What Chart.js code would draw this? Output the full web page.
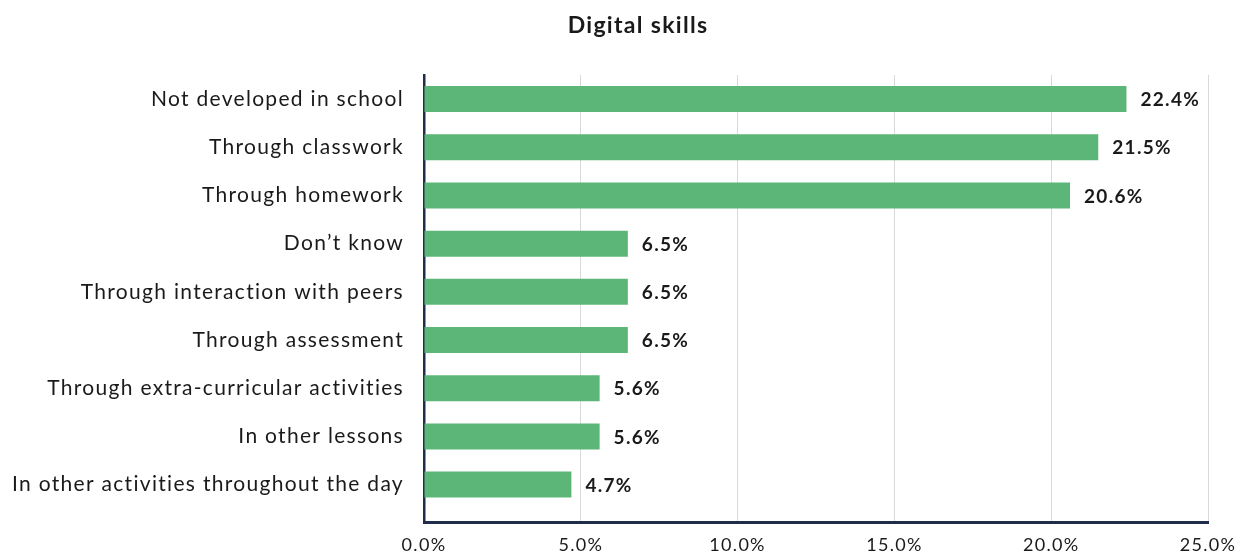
<!DOCTYPE html>
<html>
<head>
<meta charset="utf-8">
<script src="https://cdn.jsdelivr.net/npm/chart.js@4.4.1/dist/chart.umd.min.js"></script>
<style>
  html, body { margin: 0; padding: 0; background: #ffffff; }
  #wrap { width: 1246px; height: 555px; position: relative; }
</style>
</head>
<body>
<div id="wrap"><canvas id="c"></canvas></div>
<script>
const categories = [
  "Not developed in school",
  "Through classwork",
  "Through homework",
  "Don\u2019t know",
  "Through interaction with peers",
  "Through assessment",
  "Through extra-curricular activities",
  "In other lessons",
  "In other activities throughout the day"
];
const values = [22.4, 21.5, 20.6, 6.5, 6.5, 6.5, 5.6, 5.6, 4.7];
const xTickValues = [0, 5, 10, 15, 20, 25];
const chartTitle = "Digital skills";

const FONT = "Lato, 'Open Sans', sans-serif";
const TEXT = "#1a1a1a";
const AXIS = "#1f2d4a";

const spacing = {
  id: 'spacing',
  beforeDraw(chart) { chart.ctx.letterSpacing = '1.3px'; },
  afterDraw(chart) { chart.ctx.letterSpacing = '0px'; }
};

const titlePlugin = {
  id: 'titleText',
  afterDraw(chart) {
    const ctx = chart.ctx;
    ctx.save();
    ctx.letterSpacing = '1.3px';
    ctx.font = "bold 23px " + FONT;
    ctx.fillStyle = TEXT;
    ctx.textAlign = 'center';
    ctx.textBaseline = 'middle';
    ctx.fillText(chartTitle, 638, 26);
    ctx.restore();
  }
};

const valueLabels = {
  id: 'valueLabels',
  afterDatasetsDraw(chart) {
    const ctx = chart.ctx;
    const meta = chart.getDatasetMeta(0);
    ctx.save();
    ctx.font = "bold 19px " + FONT;
    ctx.fillStyle = TEXT;
    ctx.textAlign = 'left';
    ctx.textBaseline = 'middle';
    meta.data.forEach((bar, i) => {
      ctx.fillText(values[i].toFixed(1) + '%', bar.x + 14, bar.y + 1);
    });
    ctx.restore();
  }
};

new Chart(document.getElementById('c'), {
  type: 'bar',
  data: {
    labels: categories,
    datasets: [{
      data: values,
      backgroundColor: '#5cb678',
      borderWidth: 0,
      barPercentage: 0.54,
      categoryPercentage: 1.0
    }]
  },
  plugins: [spacing, valueLabels, titlePlugin],
  options: {
    indexAxis: 'y',
    responsive: true,
    maintainAspectRatio: false,
    animation: false,
    layout: { padding: { left: 0, right: 38, top: 75, bottom: 0 } },
    plugins: {
      legend: { display: false },
      tooltip: { enabled: false },
      title: { display: false }
    },
    scales: {
      x: {
        type: 'linear',
        min: 0,
        max: 25,
        afterBuildTicks(scale) {
          scale.ticks = xTickValues.map(v => ({ value: v }));
        },
        afterFit(scale) { scale.height = 32; },
        grid: { color: '#d9d9d9', lineWidth: 1, drawTicks: false },
        border: { display: true, color: AXIS, width: 3 },
        ticks: {
          padding: 12,
          color: TEXT,
          font: { family: FONT, size: 18 },
          callback: v => Number(v).toFixed(1) + '%'
        }
      },
      y: {
        type: 'category',
        afterBuildTicks(scale) {
          scale._valueRange = 9.285;
        },
        afterFit(scale) { scale.width = 424; },
        grid: { display: false, drawTicks: false },
        border: { display: true, color: AXIS, width: 2.5 },
        ticks: {
          padding: 20,
          color: TEXT,
          font: { family: FONT, size: 21 },
          autoSkip: false
        }
      }
    }
  }
});
</script>
</body>
</html>
